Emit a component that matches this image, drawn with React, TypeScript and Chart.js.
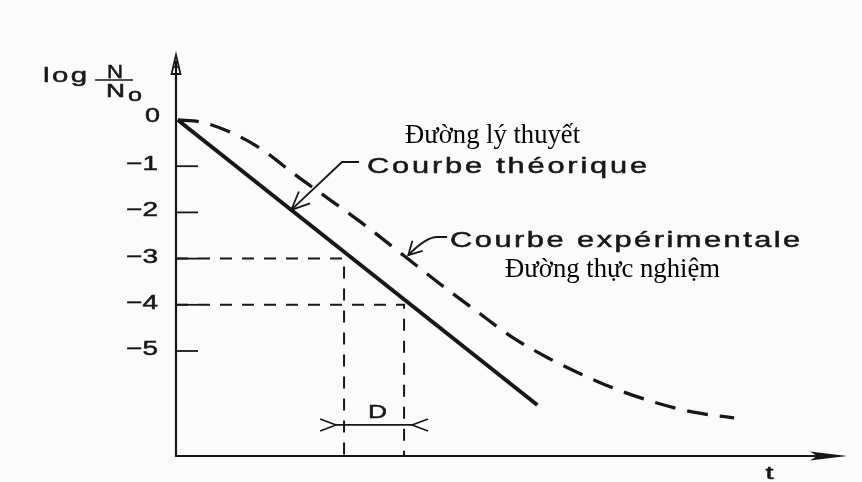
import React, { useEffect, useRef } from "react";
import { Chart, registerables } from "chart.js";

Chart.register(...registerables);

const CANVAS_W = 862;
const CANVAS_H = 482;

// ---- data (time in arbitrary units, log N/N0) ----
const theoreticalT = [0.03, 6.02];
const theoreticalLog = [0, -6.17];

const experimentalT = [0.03, 0.4, 0.9, 1.4, 2.0, 2.6, 3.2, 3.8, 4.4, 5.0, 5.6, 6.2, 6.8, 7.4, 8.0, 8.6, 9.3];
const experimentalLog = [0, -0.04, -0.26, -0.61, -1.2, -1.76, -2.33, -2.94, -3.55, -4.13, -4.7, -5.15, -5.53, -5.86, -6.12, -6.32, -6.45];

const yTickValues = [0, -1, -2, -3, -4, -5];
const yTickLabels = ["0", "−1", "−2", "−3", "−4", "−5"];

const readLevels = [-3, -4];
const readTimes = [2.8, 3.8];

const X_MIN = 0;
const X_MAX = 11.18;
const Y_MIN = -7.273;
const Y_MAX = 1.407;

const labelTheoFr = "Courbe théorique";
const labelTheoVi = "Đường lý thuyết";
const labelExpFr = "Courbe expérimentale";
const labelExpVi = "Đường thực nghiệm";
const labelD = "D";
const labelT = "t";

// annotation anchors (data units)
const theoFrAt = { t: 3.183, v: -1.147 };
const theoViAt = { t: 3.817, v: -0.498 };
const expFrAt = { t: 4.567, v: -2.749 };
const expViAt = { t: 5.483, v: -3.398 };
const theoPointerT = 1.92;
const expPointerT = 3.87;
const dBarLog = -6.6;
const tLabelT = 9.87;

const INK = "#171717";

function interp(ts: number[], vs: number[], t: number) {
  for (let i = 0; i < ts.length - 1; i++) {
    if (t >= ts[i] && t <= ts[i + 1]) {
      const f = (t - ts[i]) / (ts[i + 1] - ts[i]);
      return vs[i] + f * (vs[i + 1] - vs[i]);
    }
  }
  return vs[vs.length - 1];
}

function drawSansFit(
  ctx: CanvasRenderingContext2D,
  text: string,
  left: number,
  baseline: number,
  size: number,
  target: number,
  maxScale = 1.4
) {
  ctx.save();
  ctx.font = `${size}px "Liberation Sans", Arial, sans-serif`;
  const a = ctx as any;
  const hasLS = "letterSpacing" in a;
  if (hasLS) a.letterSpacing = "0px";
  const natural = ctx.measureText(text).width;
  const n = Array.from(text).length;
  let sx = target / natural;
  let spacing = 0;
  if (hasLS && n > 1 && sx > maxScale) {
    sx = maxScale;
    spacing = (target - natural * sx) / (n - 1);
  }
  ctx.translate(left, baseline);
  ctx.scale(sx, 1);
  if (hasLS) a.letterSpacing = `${(spacing / sx).toFixed(2)}px`;
  ctx.textAlign = "left";
  ctx.textBaseline = "alphabetic";
  ctx.fillStyle = INK;
  ctx.strokeStyle = INK;
  ctx.lineWidth = 0.5;
  ctx.fillText(text, 0, 0);
  ctx.strokeText(text, 0, 0);
  ctx.restore();
}

function drawSerifFit(ctx: CanvasRenderingContext2D, text: string, left: number, baseline: number, target: number) {
  ctx.save();
  ctx.font = `20px "Liberation Serif", "Times New Roman", serif`;
  const w = ctx.measureText(text).width;
  const size = (20 * target) / w;
  ctx.font = `${size.toFixed(2)}px "Liberation Serif", "Times New Roman", serif`;
  ctx.textAlign = "left";
  ctx.textBaseline = "alphabetic";
  ctx.fillStyle = "#000";
  ctx.fillText(text, left, baseline);
  ctx.restore();
}

function arrowHead(ctx: CanvasRenderingContext2D, x: number, y: number, ang: number, len: number, spread: number) {
  ctx.beginPath();
  ctx.moveTo(x - len * Math.cos(ang - spread), y - len * Math.sin(ang - spread));
  ctx.lineTo(x, y);
  ctx.lineTo(x - len * Math.cos(ang + spread), y - len * Math.sin(ang + spread));
  ctx.stroke();
}

const paperPlugin = {
  id: "paper",
  beforeDraw(chart: any) {
    const c = chart.ctx as CanvasRenderingContext2D;
    c.save();
    c.fillStyle = "#fbfbfb";
    c.fillRect(0, 0, chart.width, chart.height);
    c.restore();
  },
};

const decorPlugin = {
  id: "decor",
  afterDatasetsDraw(chart: any) {
    const ctx = chart.ctx as CanvasRenderingContext2D;
    const xs = chart.scales.x;
    const ys = chart.scales.y;
    const X = (t: number) => xs.getPixelForValue(t);
    const Y = (v: number) => ys.getPixelForValue(v);
    const x0 = X(X_MIN);
    const yb = Y(Y_MIN);
    const yt = Y(Y_MAX);
    const xr = X(X_MAX);

    ctx.save();
    ctx.strokeStyle = INK;
    ctx.fillStyle = INK;
    ctx.lineCap = "butt";

    // y axis
    ctx.lineWidth = 2.2;
    ctx.beginPath();
    ctx.moveTo(x0, yb + 1);
    ctx.lineTo(x0, yt + 6);
    ctx.stroke();
    ctx.lineWidth = 1.8;
    ctx.beginPath();
    ctx.moveTo(x0, yt);
    ctx.lineTo(x0 - 4.5, yt + 19);
    ctx.lineTo(x0 + 4.5, yt + 19);
    ctx.closePath();
    ctx.stroke();
    ctx.beginPath();
    ctx.moveTo(x0 - 2.8, yt + 12);
    ctx.lineTo(x0 + 2.8, yt + 12);
    ctx.stroke();

    // x axis
    ctx.lineWidth = 2.2;
    ctx.beginPath();
    ctx.moveTo(x0 - 1, yb);
    ctx.lineTo(xr - 30, yb);
    ctx.stroke();
    ctx.beginPath();
    ctx.moveTo(xr, yb);
    ctx.lineTo(xr - 37, yb - 4.5);
    ctx.lineTo(xr - 30, yb);
    ctx.lineTo(xr - 37, yb + 4.5);
    ctx.closePath();
    ctx.fill();

    // y ticks + labels
    ctx.lineWidth = 1.8;
    yTickValues.forEach((v, i) => {
      const py = Y(v);
      if (v !== 0) {
        ctx.beginPath();
        ctx.moveTo(x0, py);
        ctx.lineTo(x0 + 22, py);
        ctx.stroke();
        drawSansFit(ctx, yTickLabels[i], x0 - 50, py + 4, 20, 32);
      } else {
        drawSansFit(ctx, yTickLabels[i], x0 - 31, py + 2, 20, 15);
      }
    });

    // axis title: log N / No
    drawSansFit(ctx, "log", x0 - 133, 82, 21, 44);
    drawSansFit(ctx, "N", x0 - 69, 78, 18, 16);
    ctx.lineWidth = 1.5;
    ctx.beginPath();
    ctx.moveTo(x0 - 81, 80);
    ctx.lineTo(x0 - 43, 80);
    ctx.stroke();
    drawSansFit(ctx, "N", x0 - 70, 97, 19, 19);
    drawSansFit(ctx, "o", x0 - 48, 101, 18, 14);

    // x label
    drawSansFit(ctx, labelT, X(tLabelT) - 3, yb + 23, 19, 8);

    // theoretical pointer + labels
    const tfx = X(theoFrAt.t);
    const tfy = Y(theoFrAt.v);
    drawSansFit(ctx, labelTheoFr, tfx, tfy, 22, 280);
    drawSerifFit(ctx, labelTheoVi, X(theoViAt.t), Y(theoViAt.v), 175);
    const tipX = X(theoPointerT);
    const tipY = Y(interp(theoreticalT, theoreticalLog, theoPointerT));
    const elX = tfx - 25;
    const elY = tfy - 11;
    ctx.lineWidth = 1.8;
    ctx.beginPath();
    ctx.moveTo(tfx - 8, elY);
    ctx.lineTo(elX, elY);
    ctx.lineTo(tipX, tipY);
    ctx.stroke();
    arrowHead(ctx, tipX, tipY, Math.atan2(tipY - elY, tipX - elX), 20, 0.42);

    // experimental pointer + labels
    const efx = X(expFrAt.t);
    const efy = Y(expFrAt.v);
    drawSansFit(ctx, labelExpFr, efx, efy, 22, 350);
    drawSerifFit(ctx, labelExpVi, X(expViAt.t), Y(expViAt.v), 215);
    const etX = X(expPointerT);
    const etY = Y(interp(experimentalT, experimentalLog, expPointerT)) - 4;
    const cX = efx - 24;
    const cY = efy - 10;
    ctx.lineWidth = 1.8;
    ctx.beginPath();
    ctx.moveTo(efx - 3, cY);
    ctx.lineTo(efx - 13, cY);
    ctx.quadraticCurveTo(cX, cY, etX, etY);
    ctx.stroke();
    arrowHead(ctx, etX, etY, Math.atan2(etY - cY, etX - cX), 15, 0.5);

    // D dimension
    const xL = X(readTimes[0]);
    const xR = X(readTimes[1]);
    const yd = Y(dBarLog);
    ctx.lineWidth = 1.6;
    ctx.beginPath();
    ctx.moveTo(xL - 8, yd);
    ctx.lineTo(xR + 8, yd);
    ctx.stroke();
    arrowHead(ctx, xL - 8, yd, 0, 17, 0.36);
    arrowHead(ctx, xR + 8, yd, Math.PI, 17, 0.36);
    drawSansFit(ctx, labelD, (xL + xR) / 2 - 6, yd - 7, 19, 19);

    ctx.restore();
  },
};

export default function App() {
  const canvasRef = useRef<HTMLCanvasElement | null>(null);

  useEffect(() => {
    document.body.style.margin = "0";
    const canvas = canvasRef.current;
    if (!canvas) return;

    const refSets = readLevels.map((lv, i) => ({
      data: [
        { x: X_MIN, y: lv },
        { x: readTimes[i], y: lv },
        { x: readTimes[i], y: Y_MIN },
      ],
      showLine: true,
      borderColor: INK,
      borderWidth: 2,
      borderDash: [12, 10],
      pointRadius: 0,
      tension: 0,
    }));

    const chart = new Chart(canvas, {
      type: "scatter",
      data: {
        datasets: [
          {
            data: theoreticalT.map((t, i) => ({ x: t, y: theoreticalLog[i] })),
            showLine: true,
            borderColor: INK,
            borderWidth: 4,
            pointRadius: 0,
            tension: 0,
          },
          {
            data: experimentalT.map((t, i) => ({ x: t, y: experimentalLog[i] })),
            showLine: true,
            borderColor: INK,
            borderWidth: 3.3,
            borderDash: [21, 12],
            pointRadius: 0,
            cubicInterpolationMode: "monotone",
          },
          ...refSets,
        ] as any,
      },
      options: {
        animation: false,
        responsive: false,
        events: [],
        layout: { padding: { left: 176, right: 15, top: 55, bottom: 26 } },
        plugins: { legend: { display: false }, tooltip: { enabled: false } },
        scales: {
          x: { type: "linear", min: X_MIN, max: X_MAX, display: false },
          y: { type: "linear", min: Y_MIN, max: Y_MAX, display: false },
        },
      } as any,
      plugins: [paperPlugin, decorPlugin],
    });

    return () => chart.destroy();
  }, []);

  return (
    <div style={{ width: CANVAS_W, height: CANVAS_H }}>
      <canvas ref={canvasRef} width={CANVAS_W} height={CANVAS_H} style={{ display: "block" }} />
    </div>
  );
}
